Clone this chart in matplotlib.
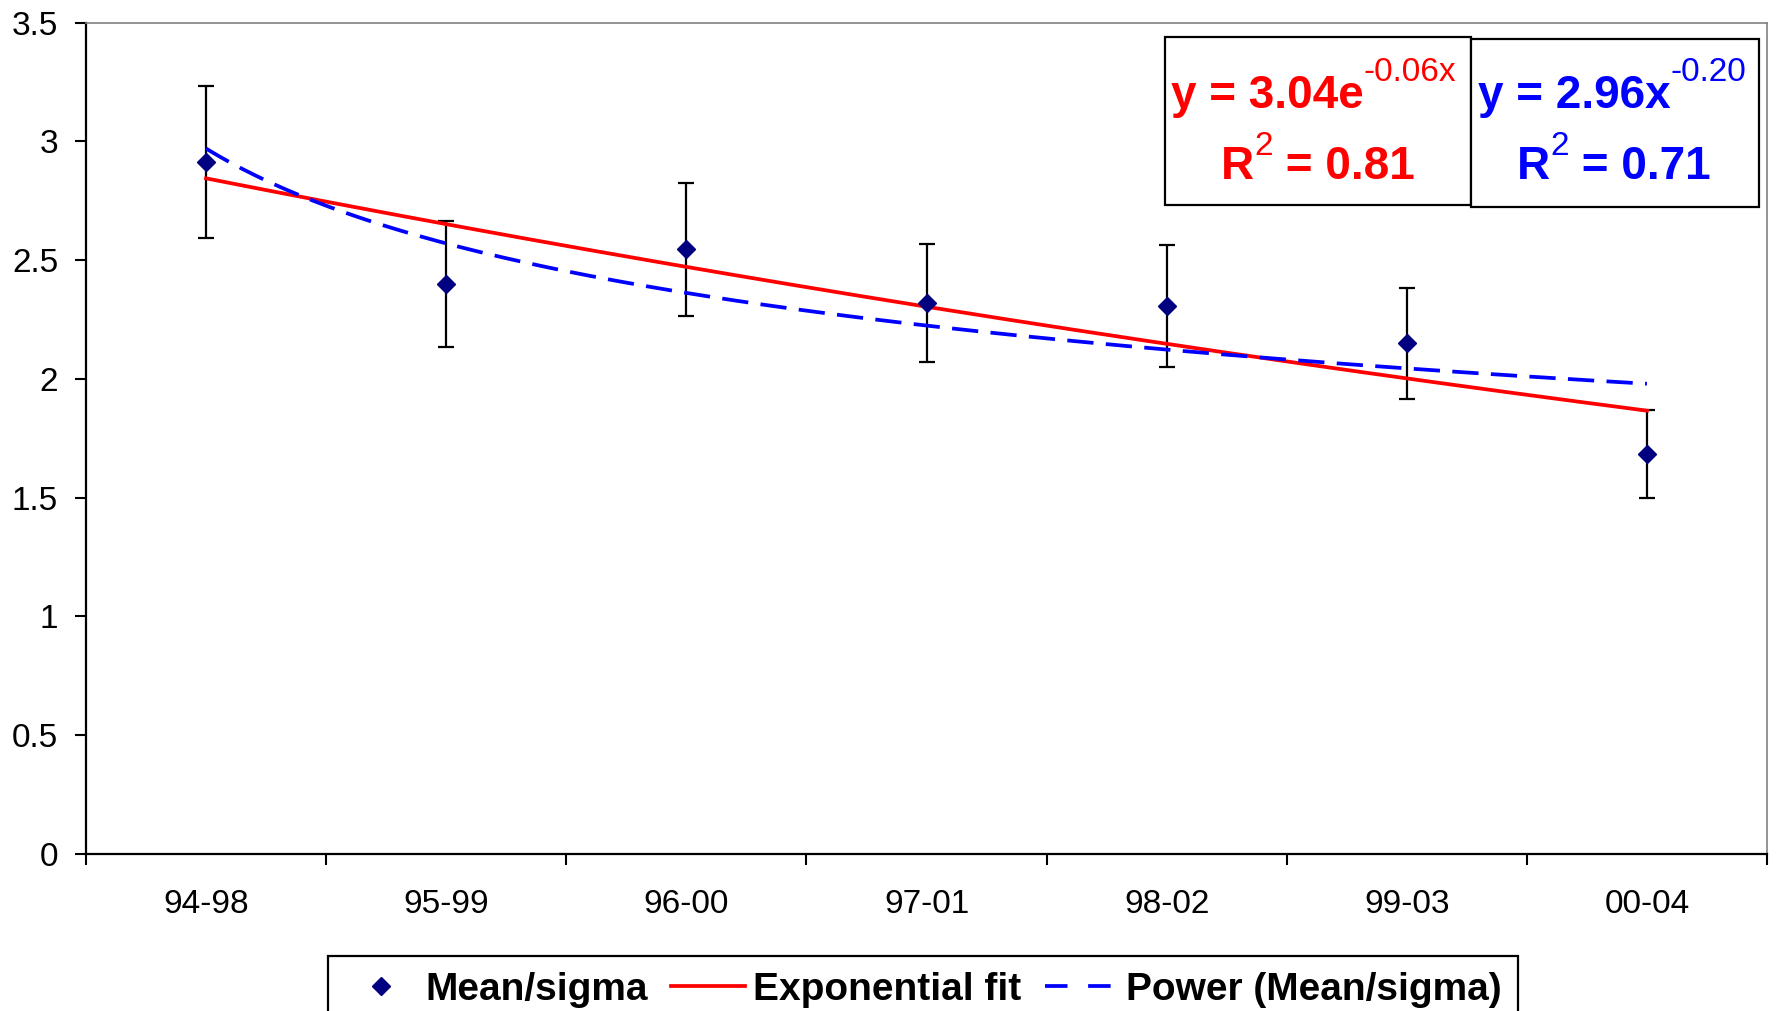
import matplotlib
matplotlib.use("Agg")
import matplotlib.pyplot as plt
import numpy as np
from matplotlib.lines import Line2D
from matplotlib.patches import Rectangle


plt.rcParams["font.family"] = ["Liberation Sans", "DejaVu Sans"]

# values
periods = ["94-98", "95-99", "96-00", "97-01", "98-02", "99-03", "00-04"]
mean_sigma = [2.915, 2.40, 2.546, 2.32, 2.307, 2.15, 1.683]
mean_sigma_err = [0.32, 0.265, 0.28, 0.25, 0.255, 0.235, 0.185]

exp_eq = ("y = 3.04e", "-0.06x", "0.81")
pow_eq = ("y = 2.96x", "-0.20", "0.71")

RED = "#FF0000"
BLUE = "#0000FF"
NAVY = "#000080"
W, H = 1778, 1011


def fx(px):
    return px / W


def fy(py):
    return 1 - py / H


def equation(base, expo, r2, color, x_eq, x_r2):
    """Excel-like trendline label: bold text with small regular superscripts."""
    big = dict(color=color, fontsize=33, fontweight="bold", zorder=6)
    small = dict(color=color, fontsize=24, zorder=6)
    t = fig.text(fx(x_eq), fy(108), base, ha="left", va="baseline", **big)
    fig.add_artist(plt.Annotation(expo, xy=(1, 1), xycoords=t, xytext=(0, 12),
                                  textcoords="offset points", ha="left",
                                  va="top", annotation_clip=False, **small))
    r = fig.text(fx(x_r2), fy(179), "R", ha="left", va="baseline", **big)
    sup = plt.Annotation("2", xy=(1, 1), xycoords=r, xytext=(0, 10),
                         textcoords="offset points", ha="left", va="top",
                         annotation_clip=False, **small)
    fig.add_artist(sup)
    fig.add_artist(plt.Annotation(" = " + r2, xy=(1, 0), xycoords=(sup, r),
                                  ha="left", va="bottom",
                                  annotation_clip=False, **big))


# Excel-style trendlines, x = 1..n
x = np.arange(1, len(periods) + 1)
y = np.array(mean_sigma)
exp_b, exp_lna = np.polyfit(x, np.log(y), 1)
pow_p, pow_lnc = np.polyfit(np.log(x), np.log(y), 1)
xx = np.linspace(1, len(periods), 200)
exp_fit = np.exp(exp_lna) * np.exp(exp_b * xx)
pow_fit = np.exp(pow_lnc) * xx ** pow_p

fig = plt.figure(figsize=(W / 100, H / 100), dpi=100)
ax = fig.add_axes([fx(86), fy(854), fx(1767 - 86), (854 - 22.7) / H])

pos = np.arange(len(periods))
ax.errorbar(pos, mean_sigma, yerr=mean_sigma_err, fmt="none", ecolor="black",
            elinewidth=1.6, capsize=5.5, capthick=1.6, zorder=2)
ax.plot(xx - 1, exp_fit, color=RED, lw=2.7, zorder=3)
ax.plot(xx - 1, pow_fit, color=BLUE, lw=2.7, linestyle=(0, (7, 3.3)), zorder=3)
ax.plot(pos, mean_sigma, linestyle="none", marker="D", markersize=9,
        color=NAVY, zorder=4)

ax.set_xlim(-0.5, len(periods) - 0.5)
ax.set_ylim(0, 3.5)
ax.set_yticks(np.arange(0, 3.51, 0.5))
ax.set_yticklabels(["0", "0.5", "1", "1.5", "2", "2.5", "3", "3.5"])
ax.set_xticks(pos)
ax.set_xticklabels(periods)
ax.set_xticks(np.arange(-0.5, len(periods), 1.0), minor=True)
ax.tick_params(axis="x", which="major", length=0, labelsize=24, pad=25)
ax.tick_params(axis="x", which="minor", length=8, width=1.5, direction="out")
ax.tick_params(axis="y", length=8, width=1.5, direction="out", labelsize=24, pad=12)

for side in ("left", "bottom"):
    ax.spines[side].set_color("black")
    ax.spines[side].set_linewidth(1.6)
for side in ("top", "right"):
    ax.spines[side].set_color("#808080")
    ax.spines[side].set_linewidth(1.2)

# equation boxes
for x0, x1, y0, y1 in [(1165, 1471, 37, 205), (1471, 1759, 39, 207)]:
    fig.add_artist(Rectangle((fx(x0), fy(y1)), fx(x1 - x0), (y1 - y0) / H,
                             transform=fig.transFigure, facecolor="white",
                             edgecolor="black", lw=1.6, zorder=5))
equation(*exp_eq, RED, 1171, 1221)
equation(*pow_eq, BLUE, 1478, 1517)

handles = [
    Line2D([], [], linestyle="none", marker="D", markersize=9, color=NAVY),
    Line2D([], [], color=RED, lw=2.7),
    Line2D([], [], color=BLUE, lw=2.7, linestyle=(0, (6, 5.5))),
]
labels = ["Mean/sigma", "Exponential fit", "Power (Mean/sigma)"]
leg = fig.legend(handles, labels, loc="upper center",
                 bbox_to_anchor=(fx(923), fy(956)), ncol=3, frameon=True,
                 fancybox=False, edgecolor="black", framealpha=1,
                 prop={"weight": "bold", "size": 28}, handlelength=1.9,
                 handletextpad=0.2, columnspacing=0.6, borderpad=0.4,
                 borderaxespad=0)
leg.get_frame().set_linewidth(1.6)

fig.savefig("out.png", dpi=100)
